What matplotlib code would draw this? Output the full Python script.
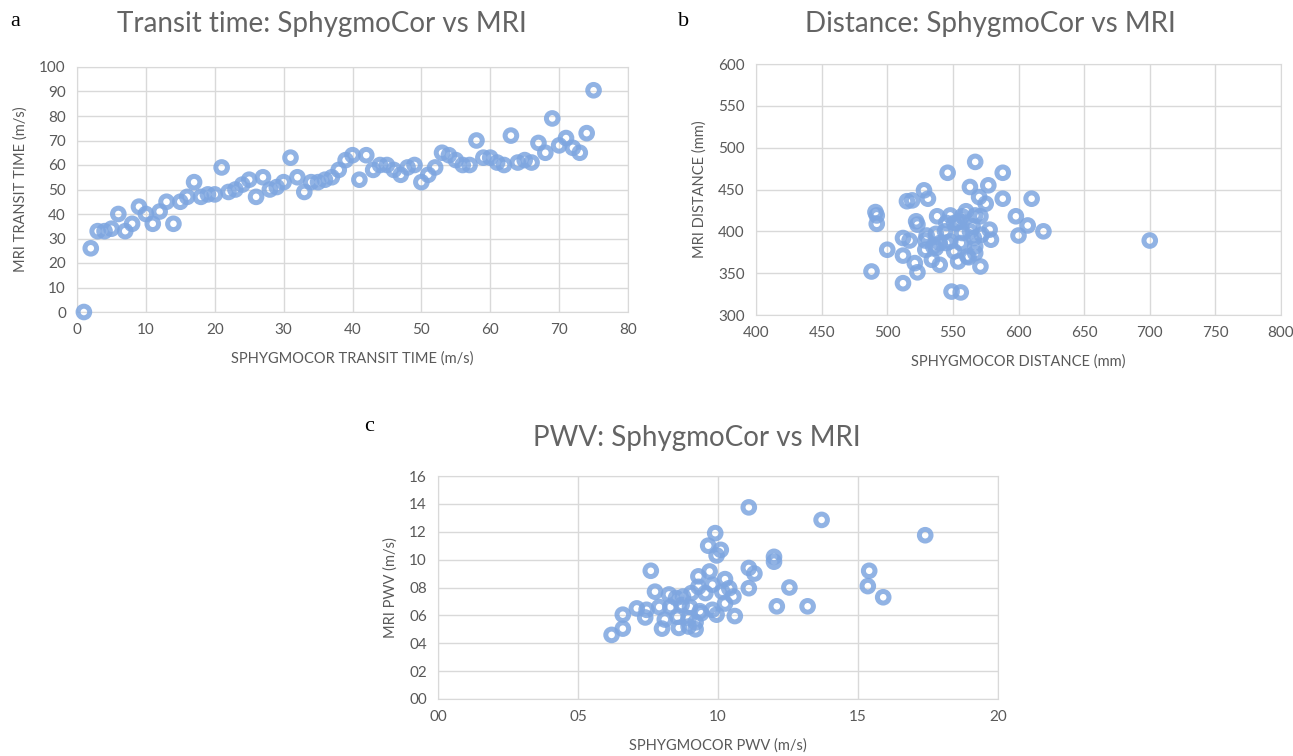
import matplotlib
matplotlib.use("Agg")
import matplotlib.pyplot as plt
from matplotlib.ticker import FuncFormatter

plt.rcParams['font.family'] = ['Lato', 'DejaVu Sans']

# a: transit time
tt_sphygmo = [1, 2, 3, 4, 5, 6, 7, 8, 9, 10, 11, 12, 13, 14, 15, 16, 17, 18, 19, 20,
              21, 22, 23, 24, 25, 26, 27, 28, 29, 30, 31, 32, 33, 34, 35, 36, 37, 38, 39, 40,
              41, 42, 43, 44, 45, 46, 47, 48, 49, 50, 51, 52, 53, 54, 55, 56, 57, 58, 59, 60,
              61, 62, 63, 64, 65, 66, 67, 68, 69, 70, 71, 72, 73, 74, 75]
tt_mri = [0, 26, 33, 33, 34, 40, 33, 36, 43, 40, 36, 41, 45, 36, 45, 47, 53, 47, 48, 48,
          59, 49, 50, 52, 54, 47, 55, 50, 51, 53, 63, 55, 49, 53, 53, 54, 55, 58, 62, 64,
          54, 64, 58, 60, 60, 58, 56, 59, 60, 53, 56, 59, 65, 64, 62, 60, 60, 70, 63, 63,
          61, 60, 72, 61, 62, 61, 69, 65, 79, 68, 71, 67, 65, 73, 90.5]

# b: distance
dist_sphygmo = [567, 546, 588, 563, 577, 528, 515, 519, 531, 570, 575, 588, 610, 491, 492,
                492, 522, 523, 538, 548, 560, 567, 555, 598, 607, 619, 600, 578, 579, 572,
                565, 557, 544, 537, 529, 512, 517, 537, 551, 556, 567, 566, 561, 500, 512,
                534, 540, 521, 523, 554, 571, 488, 512, 549, 556, 545, 551, 571, 540, 529,
                700, 548, 553, 545, 567, 562, 535, 557, 563, 530]
dist_mri = [483, 470, 470, 453, 455, 449, 436, 437, 439, 441, 433, 439, 439, 423, 419,
            409, 412, 408, 418, 419, 424, 419, 412, 418, 407, 400, 395, 402, 390, 396,
            406, 398, 400, 397, 389, 392, 389, 380, 376, 386, 382, 392, 370, 378, 371,
            366, 360, 362, 351, 364, 358, 352, 338, 328, 327, 386, 410, 418, 386, 378,
            389, 388, 410, 410, 374, 369, 382, 418, 400, 395]

# c: PWV
pwv_sphygmo = [6.2, 6.6, 6.6, 7.1, 7.4, 7.45, 7.6, 7.75, 7.9, 8.0, 8.1, 8.25, 8.3, 8.5, 8.55,
               8.6, 8.7, 8.75, 8.95, 8.95, 9.0, 9.05, 9.2, 9.2, 9.3, 9.3, 9.35, 9.4, 9.55, 9.65,
               9.7, 9.8, 9.8, 9.9, 9.95, 9.95, 10.1, 10.15, 10.25, 10.25, 10.4, 10.55, 10.6, 11.1, 11.1,
               11.1, 11.3, 12.0, 12.0, 12.1, 12.55, 13.2, 13.7, 15.4, 15.35, 15.9, 17.4]
pwv_mri = [4.6, 5.05, 6.05, 6.5, 5.85, 6.4, 9.2, 7.7, 6.6, 5.05, 5.7, 7.5, 6.6, 7.25, 5.9,
           5.1, 6.75, 7.35, 5.8, 5.2, 6.6, 7.6, 5.5, 5.0, 8.8, 8.05, 6.3, 6.15, 7.6, 11.0,
           9.15, 8.2, 6.4, 11.9, 10.3, 6.05, 10.7, 7.7, 8.6, 6.85, 7.95, 7.35, 5.95, 13.75, 9.4,
           7.95, 9.0, 10.2, 9.85, 6.65, 8.0, 6.65, 12.85, 9.2, 8.1, 7.3, 11.75]

W, H = 1293, 756
fig = plt.figure(figsize=(W / 100, H / 100), dpi=100)

grey = '#595959'
grid_c = '#d9d9d9'
blue = '#7ea6e0'


def box(l, t, r, b):
    return [l / W, 1 - b / H, (r - l) / W, (b - t) / H]


def style(ax, xlim, ylim, xticks, yticks, xlabel, ylabel, fmt=None):
    ax.set_xlim(*xlim)
    ax.set_ylim(*ylim)
    ax.set_xticks(xticks)
    ax.set_yticks(yticks)
    if fmt:
        ax.xaxis.set_major_formatter(FuncFormatter(fmt))
        ax.yaxis.set_major_formatter(FuncFormatter(fmt))
    ax.grid(True, color=grid_c, lw=1)
    ax.set_axisbelow(True)
    for s in ax.spines.values():
        s.set_color(grid_c)
    ax.tick_params(length=0, colors=grey, labelsize=11, pad=8)
    ax.set_xlabel(xlabel, color=grey, fontsize=10.5, labelpad=10)
    ax.set_ylabel(ylabel, color=grey, fontsize=10.5, labelpad=8)


def dots(ax, x, y):
    ax.scatter(x, y, s=70, facecolors='none', edgecolors=blue, linewidths=3.6,
               alpha=0.85, clip_on=False, zorder=3)


ax1 = fig.add_axes(box(77, 67, 628, 312))
dots(ax1, tt_sphygmo, tt_mri)
style(ax1, (0, 80), (0, 100), range(0, 81, 10), range(0, 101, 10),
      'SPHYGMOCOR TRANSIT TIME (m/s)', 'MRI TRANSIT TIME (m/s)')

ax2 = fig.add_axes(box(756, 64, 1281, 315))
dots(ax2, dist_sphygmo, dist_mri)
style(ax2, (400, 800), (300, 600), range(400, 801, 50), range(300, 601, 50),
      'SPHYGMOCOR DISTANCE (mm)', 'MRI DISTANCE (mm)')

ax3 = fig.add_axes(box(438, 476, 998, 699))
dots(ax3, pwv_sphygmo, pwv_mri)
style(ax3, (0, 20), (0, 16), range(0, 21, 5), range(0, 17, 2),
      'SPHYGMOCOR PWV (m/s)', 'MRI PWV (m/s)', fmt=lambda v, p: '%02d' % v)

# titles and panel letters
for tx, ty, title in [(322, 24, 'Transit time: SphygmoCor vs MRI'),
                      (990, 24, 'Distance: SphygmoCor vs MRI'),
                      (697, 438, 'PWV: SphygmoCor vs MRI')]:
    fig.text(tx / W, 1 - ty / H, title, ha='center', va='center',
             fontsize=20, color='#646464')
for lx, ly, letter in [(15, 22, 'a'), (684, 22, 'b'), (369, 427, 'c')]:
    fig.text(lx / W, 1 - ly / H, letter, ha='center', va='center', fontsize=16,
             family='Liberation Serif', color='black')

fig.savefig('out.png', dpi=100)
